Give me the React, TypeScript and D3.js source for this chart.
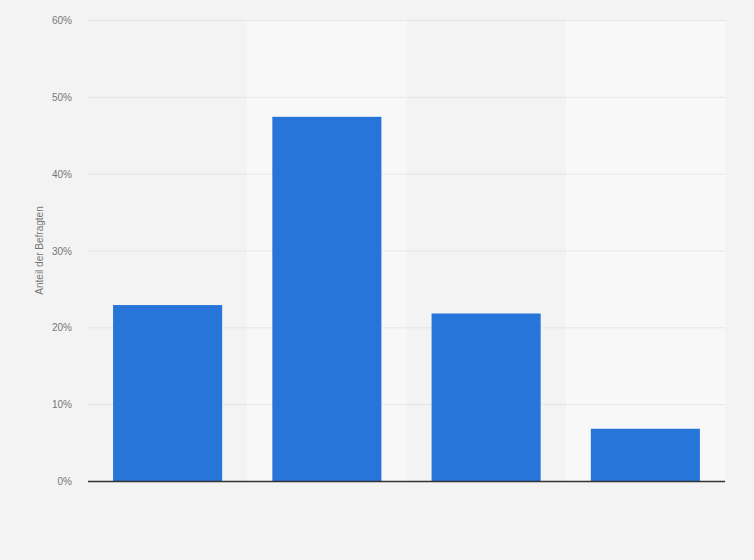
import * as d3 from "d3"
import { useEffect, useRef } from "react"

const categories = ["A", "B", "C", "D"]
const values = [22.9, 47.4, 21.8, 6.8]
const yTicks = [0, 10, 20, 30, 40, 50, 60]
const yLabel = "Anteil der Befragten"

export default function App() {
  const ref = useRef<SVGSVGElement | null>(null)

  useEffect(() => {
    if (!ref.current) return
    const width = 754
    const height = 560
    const margin = { top: 20, right: 29, bottom: 79, left: 88 }

    const svg = d3.select(ref.current)
    svg.selectAll("*").remove()
    svg.attr("viewBox", `0 0 ${width} ${height}`)

    svg.append("rect").attr("width", width).attr("height", height).attr("fill", "#f3f3f3")

    const x = d3
      .scaleBand<string>()
      .domain(categories)
      .range([margin.left, width - margin.right])
      .paddingInner(0.315)
      .paddingOuter(0.1575)

    const y = d3
      .scaleLinear()
      .domain([0, 60])
      .range([height - margin.bottom, margin.top])

    const step = x.step()
    const x0 = margin.left

    // alternating column bands
    svg
      .append("g")
      .selectAll("rect")
      .data(categories)
      .join("rect")
      .attr("x", (_, i) => x0 + i * step)
      .attr("y", margin.top)
      .attr("width", step)
      .attr("height", y(0) - margin.top)
      .attr("fill", (_, i) => (i % 2 === 1 ? "#f8f8f8" : "#f3f3f3"))

    // grid
    svg
      .append("g")
      .selectAll("line")
      .data(yTicks.filter((t) => t > 0))
      .join("line")
      .attr("x1", margin.left)
      .attr("x2", width - margin.right)
      .attr("y1", (d) => y(d) + 0.5)
      .attr("y2", (d) => y(d) + 0.5)
      .attr("stroke", "#d6d6d6")
      .attr("stroke-dasharray", "1,1")

    // tick labels
    svg
      .append("g")
      .selectAll("text")
      .data(yTicks)
      .join("text")
      .attr("x", 72)
      .attr("y", (d) => y(d) + 4)
      .attr("text-anchor", "end")
      .attr("font-family", "Arial, 'Liberation Sans', sans-serif")
      .attr("font-size", 10)
      .attr("fill", "#777")
      .text((d) => `${d}%`)

    svg
      .append("text")
      .attr("transform", `translate(43,${(y(0) + y(60)) / 2}) rotate(-90)`)
      .attr("text-anchor", "middle")
      .attr("font-family", "Arial, 'Liberation Sans', sans-serif")
      .attr("font-size", 10)
      .attr("fill", "#777")
      .text(yLabel)

    // bars
    svg
      .append("g")
      .selectAll("rect")
      .data(values)
      .join("rect")
      .attr("x", (_, i) => x(categories[i])!)
      .attr("y", (d) => y(d))
      .attr("width", x.bandwidth())
      .attr("height", (d) => y(0) - y(d))
      .attr("fill", "#2775d9")

    // baseline
    svg
      .append("line")
      .attr("x1", margin.left)
      .attr("x2", width - margin.right)
      .attr("y1", y(0) + 0.5)
      .attr("y2", y(0) + 0.5)
      .attr("stroke", "#333")
      .attr("stroke-width", 1.3)
  }, [])

  return (
    <div style={{ position: "absolute", top: 0, left: 0 }}>
      <svg ref={ref} width={754} height={560} style={{ display: "block" }} />
    </div>
  )
}
